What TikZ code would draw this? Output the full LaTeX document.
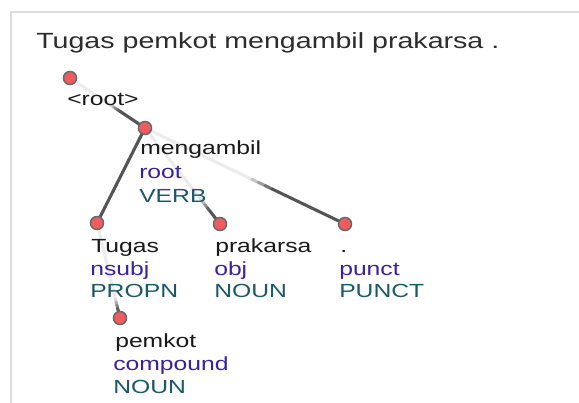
\documentclass[tikz,border=0pt]{standalone}
\usepackage{fontspec}
\setmainfont{Liberation Sans}
\newfontfamily\labfont[FakeStretch=1.3]{Liberation Sans}
\usetikzlibrary{calc,backgrounds}
\definecolor{edgedark}{RGB}{85,85,85}
\definecolor{edgelight}{RGB}{236,236,236}
\definecolor{dotred}{RGB}{238,92,95}
\definecolor{dotline}{RGB}{105,105,105}
\definecolor{wordcol}{RGB}{25,25,25}
\definecolor{relcol}{RGB}{58,35,150}
\definecolor{poscol}{RGB}{28,88,104}
\definecolor{titlecol}{RGB}{45,45,45}
\definecolor{framecol}{RGB}{220,220,220}
\newcommand\gradedge[3]{%
  \foreach \i in {0,...,29}{%
    \pgfmathsetmacro\pa{\i/30}%
    \pgfmathsetmacro\pb{(\i+1)/30}%
    \pgfmathtruncatemacro\pc{max(0,min(100,((\i+0.5)/30-#3)/0.12*100+50))}%
    \draw[edgeline,color=edgedark!\pc!edgelight] ($(#1)!\pa!(#2)$) -- ($(#1)!\pb!(#2)$);
  }}
\begin{document}
\begin{tikzpicture}[x=0.75pt,y=-0.75pt,
  dot/.style={circle,minimum size=9.8pt,inner sep=0pt,fill=dotred,draw=dotline,line width=1.1pt},
  edgeline/.style={line width=2.3pt,line cap=round},
  lab/.style={anchor=base west,inner sep=0pt,font=\labfont\fontsize{14.25}{16}\selectfont},
  wordlab/.style={lab,text=wordcol},
  rellab/.style={lab,text=relcol},
  poslab/.style={lab,text=poscol},
  frame/.style={draw=framecol,line width=1.5pt}]
\useasboundingbox (0,0) rectangle (579,403);
\draw[frame] (579,12) -- (11,12) -- (11,403);
\node[anchor=base west,inner sep=0pt,text=titlecol,font=\labfont\fontsize{16.5}{19}\selectfont] (title) at (36,49) {Tugas pemkot mengambil prakarsa .};
% dots
\node[dot] (root) at (70,78) {};
\node[dot] (meng) at (145,128) {};
\node[dot] (tugas) at (97,223) {};
\node[dot] (prak) at (220,224) {};
\node[dot] (punc) at (345,224) {};
\node[dot] (pemk) at (120,318) {};
% edges
\begin{pgfonlayer}{background}
\fill[white] (0,0) rectangle (579,403);
\gradedge{root}{meng}{0.6}
\gradedge{meng}{tugas}{-0.5}
\gradedge{meng}{prak}{0.8}
\gradedge{meng}{punc}{0.58}
\gradedge{tugas}{pemk}{0.86}
\end{pgfonlayer}
% labels
\node[wordlab] (l-root) at (67,106) {<root>};
\node[wordlab] (w-meng) at (140,155) {mengambil};
\node[rellab] (r-meng) at (139,179) {root};
\node[poslab] (p-meng) at (139,203) {VERB};
\node[wordlab] (w-tugas) at (91,252) {Tugas};
\node[rellab] (r-tugas) at (90,275) {nsubj};
\node[poslab] (p-tugas) at (90,297) {PROPN};
\node[wordlab] (w-prak) at (215,252) {prakarsa};
\node[rellab] (r-prak) at (214,275) {obj};
\node[poslab] (p-prak) at (214,297) {NOUN};
\node[wordlab] (w-punc) at (340,252) {.};
\node[rellab] (r-punc) at (339,275) {punct};
\node[poslab] (p-punc) at (339,297) {PUNCT};
\node[wordlab] (w-pemk) at (115,347) {pemkot};
\node[rellab] (r-pemk) at (113,370) {compound};
\node[poslab] (p-pemk) at (113,393) {NOUN};
\end{tikzpicture}
\end{document}
